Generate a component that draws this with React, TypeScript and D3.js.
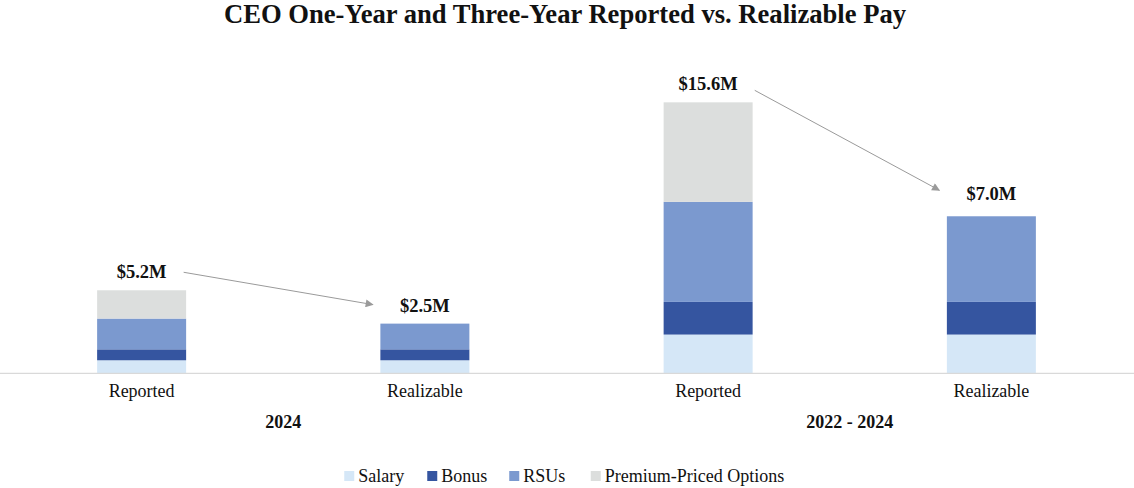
import * as d3 from "d3";

const title = "CEO One-Year and Three-Year Reported vs. Realizable Pay";

const bars = ["Reported", "Realizable", "Reported ", "Realizable "];
const barLabels = ["Reported", "Realizable", "Reported", "Realizable"];
const totals = ["$5.2M", "$2.5M", "$15.6M", "$7.0M"];
const groups = ["2024", "2022 - 2024"];

const seriesNames = ["Salary", "Bonus", "RSUs", "Premium-Priced Options"];
const seriesColors = ["#d5e7f7", "#3555a0", "#7b99cf", "#dcdedd"];

// $M, per bar
const salary = [0.75, 0.75, 2.23, 2.23];
const bonus = [0.63, 0.63, 1.88, 1.88];
const rsus = [1.77, 1.48, 5.76, 4.93];
const options = [1.63, 0, 5.73, 0];

const arrows = [
  { from: 0, to: 1 },
  { from: 2, to: 3 },
];

const W = 1134;
const H = 488;
const baseY = 373.3;
const pxPerM = 17.37;

const font = "'Liberation Serif', 'Times New Roman', serif";

export default function App() {
  const x = d3.scalePoint<string>().domain(bars).range([0, W - 1]).padding(0.5);
  const barW = 89;
  const maxTotal = 15.6;
  const y = d3.scaleLinear().domain([0, maxTotal]).range([baseY, baseY - maxTotal * pxPerM]);

  const rows = bars.map((b, i) => ({
    bar: b,
    Salary: salary[i],
    Bonus: bonus[i],
    RSUs: rsus[i],
    "Premium-Priced Options": options[i],
  }));
  const stack = d3.stack<any>().keys(seriesNames)(rows);
  const tops = bars.map((_, i) => y(salary[i] + bonus[i] + rsus[i] + options[i]));

  const labelBase = tops.map((t, i) => t - (i === 3 ? 16 : 12));
  const labelHalf = totals.map((t) => t.length * 4.6 + 2);

  // legend layout
  const textW = [47, 46, 45.5, 185];
  const sq = 10;
  const gapSq = 4;
  const gapItem = 22;
  const itemW = textW.map((w) => sq + gapSq + w);
  const legendTotal = d3.sum(itemW) + gapItem * (itemW.length - 1);
  let lx = 567 - legendTotal / 2;
  const legendX = itemW.map((w) => {
    const v = lx;
    lx += w + gapItem;
    return v;
  });

  return (
    <svg
      width={W}
      height={H}
      style={{ position: "absolute", left: 0, top: 0, background: "#fff" }}
      fontFamily={font}
    >
      <defs>
        <marker id="ah" viewBox="0 0 10 10" refX="9" refY="5" markerWidth="10" markerHeight="8" orient="auto" markerUnits="userSpaceOnUse">
          <path d="M0,0 L10,5 L0,10 z" fill="#9a9a9a" />
        </marker>
      </defs>
      <text x={565} y={22.5} textAnchor="middle" fontSize={26.6} fontWeight="bold" fill="#111">
        {title}
      </text>

      {stack.map((s, si) => (
        <g key={si} fill={seriesColors[si]}>
          {s.map((d, i) =>
            d[1] - d[0] > 0 ? (
              <rect
                key={i}
                x={(x(bars[i]) as number) - barW / 2}
                y={y(d[1])}
                width={barW}
                height={y(d[0]) - y(d[1])}
              />
            ) : null
          )}
        </g>
      ))}

      <line x1={0} x2={W} y1={baseY} y2={baseY} stroke="#d9d9d9" strokeWidth={1.2} />

      {bars.map((b, i) => (
        <text key={b} x={x(b)} y={397} textAnchor="middle" fontSize={18} fill="#111">
          {barLabels[i]}
        </text>
      ))}

      {groups.map((g, gi) => (
        <text
          key={g}
          x={((x(bars[gi * 2]) as number) + (x(bars[gi * 2 + 1]) as number)) / 2}
          y={428}
          textAnchor="middle"
          fontSize={18}
          fontWeight="bold"
          fill="#111"
        >
          {g}
        </text>
      ))}

      {totals.map((t, i) => (
        <text key={t} x={x(bars[i])} y={labelBase[i]} textAnchor="middle" fontSize={18.5} fontWeight="bold" fill="#111">
          {t}
        </text>
      ))}

      {arrows.map((a, k) => {
        const x1 = (x(bars[a.from]) as number) + labelHalf[a.from] + 17;
        const y1 = labelBase[a.from] - (k === 0 ? 6 : 0);
        const x2 = (x(bars[a.to]) as number) - labelHalf[a.to] - 27;
        const y2 = labelBase[a.to] - (k === 0 ? 7 : 10);
        return (
          <line key={k} x1={x1} y1={y1} x2={x2} y2={y2} stroke="#9a9a9a" strokeWidth={1} markerEnd="url(#ah)" />
        );
      })}

      {seriesNames.map((n, i) => (
        <g key={n} transform={`translate(${legendX[i]},476)`}>
          <rect x={0} y={-5} width={sq} height={sq} fill={seriesColors[i]} />
          <text x={sq + gapSq} y={6} fontSize={18} fill="#111">
            {n}
          </text>
        </g>
      ))}
    </svg>
  );
}
